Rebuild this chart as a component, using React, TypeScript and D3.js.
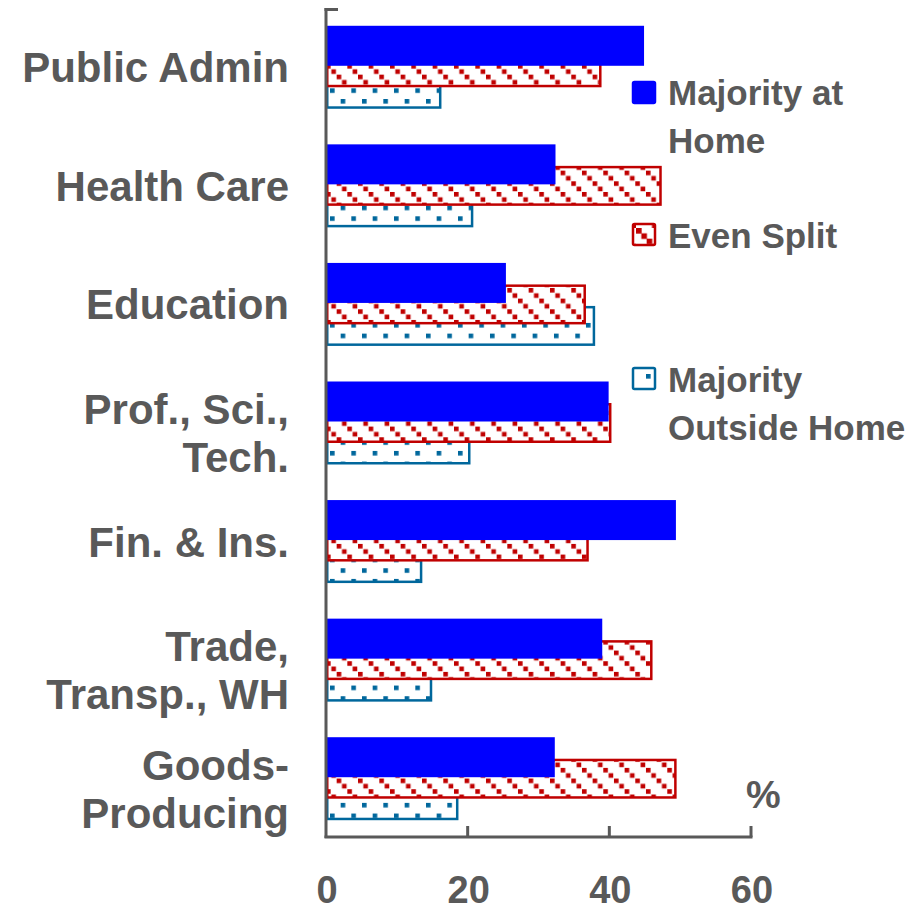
import React from "react";
import * as d3 from "d3";

const categories = [
  "Public Admin",
  "Health Care",
  "Education",
  "Prof., Sci.,\nTech.",
  "Fin. & Ins.",
  "Trade,\nTransp., WH",
  "Goods-\nProducing",
];
const seriesNames = ["Majority at\nHome", "Even Split", "Majority\nOutside Home"];
const majorityHome = [44.9, 32.4, 25.4, 39.9, 49.4, 39.0, 32.3];
const evenSplit = [38.9, 47.4, 36.7, 40.3, 37.1, 46.1, 49.5];
const majorityOutside = [16.3, 20.8, 38.0, 20.4, 13.6, 15.0, 18.7];
const xTicks = [0, 20, 40, 60];
const unitLabel = "%";

const W = 916;
const H = 910;
const GRAY = "#595959";
const BLUE = "#0000FF";
const RED = "#C00000";
const TEAL = "#00679C";
const FONT = "'Liberation Sans', Arial, sans-serif";

export default function App() {
  const x = d3.scaleLinear().domain([0, 60]).range([326, 751]);
  const y = d3.scaleBand<string>().domain(categories).range([8, 838]).padding(0);
  const barH = 40;
  const stride = 21.5;

  const series = [
    { key: "outside", values: majorityOutside, offset: stride, fill: "url(#tealPat)", stroke: TEAL },
    { key: "even", values: evenSplit, offset: 0, fill: "url(#redPat)", stroke: RED },
    { key: "home", values: majorityHome, offset: -stride, fill: BLUE, stroke: "none" },
  ];

  const legend = [
    { name: seriesNames[0], fill: BLUE, stroke: BLUE, sy: 82, ty: 105 },
    { name: seriesNames[1], fill: "url(#redLeg)", stroke: RED, sy: 224, ty: 248 },
    { name: seriesNames[2], fill: "url(#tealLeg)", stroke: TEAL, sy: 368, ty: 392 },
  ];

  const t = 21.33;
  const s = 4.6;

  return (
    <svg
      width={W}
      height={H}
      style={{ position: "absolute", left: 0, top: 0, background: "#fff" }}
      fontFamily={FONT}
    >
      <defs>
        <pattern id="redPat" patternUnits="userSpaceOnUse" width={t} height={t} x={326} y={0}>
          <rect width={t} height={t} fill="#fff" />
          {[0, 1, 2, 3].map((i) => (
            <rect key={i} x={i * (t / 4)} y={i * (t / 4)} width={s} height={s} fill={RED} />
          ))}
        </pattern>
        <pattern id="tealPat" patternUnits="userSpaceOnUse" width={t} height={t} x={330} y={3}>
          <rect width={t} height={t} fill="#fff" />
          <rect x={0} y={0} width={s} height={s} fill={TEAL} />
          <rect x={t / 2} y={t / 2} width={s} height={s} fill={TEAL} />
        </pattern>
        <pattern id="redLeg" patternUnits="userSpaceOnUse" width={t} height={t} x={636} y={228}>
          <rect width={t} height={t} fill="#fff" />
          {[0, 1, 2, 3].map((i) => (
            <rect key={i} x={i * (t / 4)} y={i * (t / 4)} width={s + 1} height={s + 1} fill={RED} />
          ))}
        </pattern>
        <pattern id="tealLeg" patternUnits="userSpaceOnUse" width={t} height={t} x={646} y={374}>
          <rect width={t} height={t} fill="#fff" />
          <rect x={0} y={0} width={s} height={s} fill={TEAL} />
        </pattern>
      </defs>

      {/* bars */}
      {series.map((ser) => (
        <g key={ser.key}>
          {categories.map((c, i) => {
            const cy = (y(c) as number) + y.bandwidth() / 2 + ser.offset;
            const x0 = x(0);
            const x1 = x(ser.values[i]);
            const sw = ser.stroke === "none" ? 0 : 2.5;
            return (
              <rect
                key={c}
                x={x0 + sw / 2}
                y={cy - barH / 2 + sw / 2}
                width={x1 - x0 - sw}
                height={barH - sw}
                fill={ser.fill}
                stroke={ser.stroke}
                strokeWidth={sw}
              />
            );
          })}
        </g>
      ))}

      {/* axes */}
      <line x1={x(0)} x2={x(0)} y1={8} y2={838} stroke={GRAY} strokeWidth={3} />
      <line x1={x(0) - 1.5} x2={338} y1={9.5} y2={9.5} stroke={GRAY} strokeWidth={3} />
      <line x1={x(0) - 1.5} x2={x(60) + 1.5} y1={837} y2={837} stroke={GRAY} strokeWidth={3} />
      {xTicks.slice(1).map((v) => (
        <line key={v} x1={x(v)} x2={x(v)} y1={826} y2={837} stroke={GRAY} strokeWidth={3} />
      ))}
      {xTicks.map((v) => (
        <text
          key={v}
          x={x(v) + 1}
          y={903}
          textAnchor="middle"
          fontSize={38}
          fontWeight="bold"
          fill={GRAY}
        >
          {v}
        </text>
      ))}
      <text x={746} y={808} fontSize={39} fontWeight="bold" fill={GRAY}>
        {unitLabel}
      </text>

      {/* category labels */}
      {categories.map((c) => {
        const cy = (y(c) as number) + y.bandwidth() / 2;
        const lines = c.split("\n");
        const base = lines.length === 1 ? cy + 15 : cy + 1;
        return (
          <text key={c} textAnchor="end" fontSize={42} fontWeight="bold" fill={GRAY}>
            {lines.map((ln, k) => (
              <tspan key={k} x={289} y={base + k * 48}>
                {ln}
              </tspan>
            ))}
          </text>
        );
      })}

      {/* legend */}
      {legend.map((l) => (
        <g key={l.name}>
          <rect
            x={633}
            y={l.sy}
            width={22}
            height={21}
            rx={1.5}
            fill={l.fill}
            stroke={l.stroke}
            strokeWidth={2.5}
          />
          <text fontSize={35} fontWeight="bold" fill={GRAY}>
            {l.name.split("\n").map((ln, k) => (
              <tspan key={k} x={668} y={l.ty + k * 48}>
                {ln}
              </tspan>
            ))}
          </text>
        </g>
      ))}
    </svg>
  );
}
